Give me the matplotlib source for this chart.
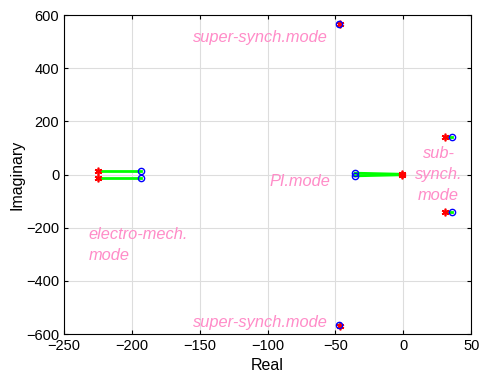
import matplotlib.pyplot as plt

plt.rcParams["font.family"] = ["Liberation Sans", "DejaVu Sans"]

# eigenvalue trajectories: start (red *) -> end (blue o)
start_re = [-225, -225, -1, -1, 31, 31, -46.5, -46.5]
start_im = [13, -13, 1, -1, 140, -140, 568, -568]
end_re = [-193, -193, -35.5, -35.5, 36, 36, -47, -47]
end_im = [13, -13, 5, -5, 140, -140, 566, -566]

labels = ["super-synch.mode", "super-synch.mode", "PI.mode",
          "sub-\nsynch.\nmode", "electro-mech.\nmode"]
label_x = [-105, -105, -76, 26, -232]
label_y = [517, -558, -28, 0, -265]
label_ha = ["center", "center", "center", "center", "left"]

fig = plt.figure(figsize=(4.79, 3.79), dpi=100)
ax = fig.add_axes([0.1336, 0.1187, 0.85, 0.8417])

for i in range(len(start_re)):
    ax.plot([start_re[i], end_re[i]], [start_im[i], end_im[i]],
            color="#00ff00", lw=2, zorder=2)
ax.plot(start_re, start_im, marker=(6, 2, 0), ls="none", color="red",
        ms=5.5, mew=1.2, zorder=3)
ax.plot(end_re, end_im, "o", mfc="none", mec="blue", ms=4.5, mew=1, zorder=4)

for t, x, y, ha in zip(labels, label_x, label_y, label_ha):
    ax.text(x, y, t, color="#ff8cc8", fontsize=11.8, style="italic",
            ha=ha, va="center", linespacing=1.5)

ax.set_xlim(-250, 50)
ax.set_ylim(-600, 600)
ax.set_xticks(range(-250, 51, 50))
ax.set_yticks(range(-600, 601, 200))
ax.grid(True, color="#dddddd", lw=0.8)
ax.set_axisbelow(True)
ax.tick_params(direction="in", labelsize=10.5, top=True, right=True, length=3)
ax.set_xlabel("Real", fontsize=11.5)
ax.set_ylabel("Imaginary", fontsize=11.5, labelpad=1)

fig.savefig("out.png", dpi=100)
